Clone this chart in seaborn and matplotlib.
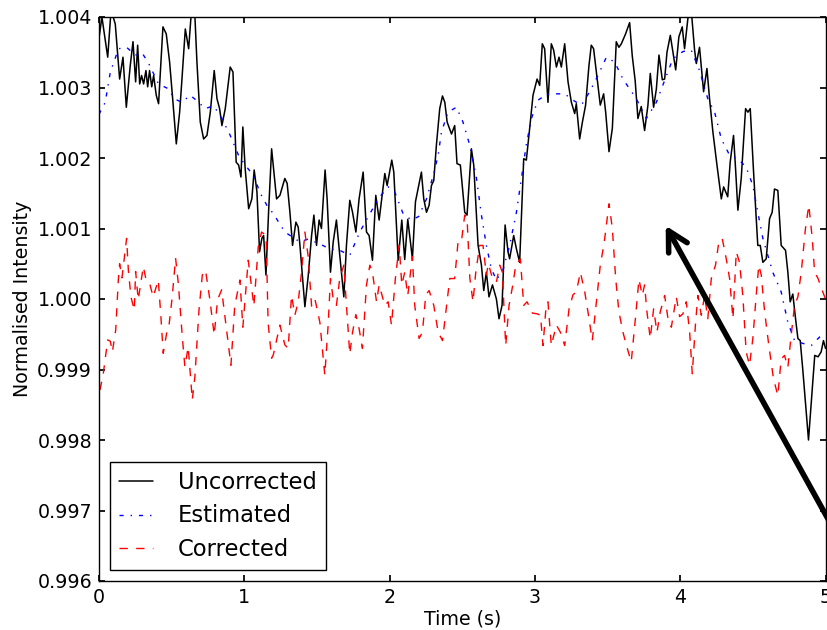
import matplotlib
matplotlib.use("Agg")
import matplotlib.pyplot as plt
import seaborn as sns
from matplotlib.ticker import FormatStrFormatter

# ---- data ----
unc_t = [0.0, 0.02, 0.06, 0.083, 0.112, 0.142, 0.165, 0.188, 0.215, 0.234, 0.252, 0.266, 0.28, 0.293,
         0.307, 0.323, 0.335, 0.348, 0.363, 0.376, 0.394, 0.41, 0.44, 0.463, 0.486, 0.509, 0.532, 0.555,
         0.571, 0.594, 0.617, 0.633, 0.656, 0.674, 0.697, 0.72, 0.743, 0.766, 0.793, 0.812, 0.83, 0.846,
         0.869, 0.903, 0.922, 0.944, 0.961, 0.977, 0.99, 1.006, 1.03, 1.052, 1.068, 1.087, 1.105, 1.121,
         1.133, 1.149, 1.167, 1.188, 1.222, 1.245, 1.279, 1.295, 1.314, 1.332, 1.355, 1.371, 1.383, 1.401,
         1.417, 1.44, 1.463, 1.479, 1.497, 1.515, 1.531, 1.556, 1.57, 1.593, 1.612, 1.634, 1.657, 1.685,
         1.703, 1.726, 1.745, 1.768, 1.79, 1.818, 1.841, 1.859, 1.882, 1.905, 1.928, 1.967, 1.983, 2.015,
         2.029, 2.059, 2.084, 2.104, 2.125, 2.157, 2.178, 2.219, 2.235, 2.254, 2.272, 2.288, 2.304, 2.322,
         2.345, 2.364, 2.38, 2.396, 2.426, 2.448, 2.464, 2.487, 2.517, 2.533, 2.563, 2.579, 2.609, 2.632,
         2.648, 2.666, 2.684, 2.708, 2.735, 2.753, 2.774, 2.795, 2.815, 2.826, 2.854, 2.873, 2.895, 2.923,
         2.941, 2.964, 2.987, 3.015, 3.033, 3.051, 3.067, 3.09, 3.113, 3.129, 3.148, 3.166, 3.182, 3.205,
         3.228, 3.251, 3.274, 3.285, 3.308, 3.327, 3.349, 3.372, 3.388, 3.404, 3.423, 3.45, 3.473, 3.487,
         3.51, 3.533, 3.56, 3.578, 3.595, 3.624, 3.652, 3.67, 3.69, 3.709, 3.732, 3.755, 3.778, 3.794,
         3.817, 3.836, 3.854, 3.877, 3.893, 3.909, 3.932, 3.95, 3.969, 3.991, 4.014, 4.03, 4.053, 4.076,
         4.099, 4.111, 4.133, 4.161, 4.184, 4.202, 4.225, 4.253, 4.283, 4.299, 4.327, 4.344, 4.367, 4.381,
         4.397, 4.42, 4.45, 4.466, 4.482, 4.505, 4.534, 4.551, 4.569, 4.592, 4.615, 4.633, 4.649, 4.672,
         4.695, 4.725, 4.741, 4.757, 4.775, 4.794, 4.81, 4.826, 4.844, 4.867, 4.883, 4.909, 4.926, 4.949,
         4.97, 4.986, 5.0]
unc_v = [1.0037, 1.0040, 1.00343, 1.0041, 1.0039, 1.00312, 1.00343, 1.00272, 1.00331, 1.00365, 1.00308,
         1.0036, 1.00305, 1.00317, 1.00305, 1.00324, 1.00301, 1.00324, 1.00301, 1.00317, 1.00289, 1.00277,
         1.00386, 1.00376, 1.00336, 1.00279, 1.0022, 1.00265, 1.00312, 1.00383, 1.00355, 1.0040, 1.0042,
         1.00336, 1.00251, 1.00227, 1.00232, 1.00265, 1.00324, 1.00284, 1.0027, 1.00246, 1.0027, 1.00329,
         1.00322, 1.00194, 1.0019, 1.00173, 1.00244, 1.00185, 1.00128, 1.00142, 1.00183, 1.00152, 1.00067,
         1.00086, 1.0009, 1.00034, 1.00123, 1.00213, 1.00142, 1.00147, 1.00171, 1.00164, 1.00123, 1.00076,
         1.00109, 1.00102, 1.00076, 1.00029, 0.99989, 1.00033, 1.0009, 1.00119, 1.00076, 1.00112, 1.001,
         1.00183, 1.00142, 1.00038, 1.00081, 1.00112, 1.00062, 1.00003, 1.00076, 1.0014, 1.00123, 1.00095,
         1.00142, 1.0018, 1.00095, 1.0009, 1.00055, 1.00147, 1.00112, 1.00178, 1.00161, 1.00197, 1.0018,
         1.00055, 1.00112, 1.00056, 1.00113, 1.00057, 1.00138, 1.0018, 1.00142, 1.00123, 1.00133, 1.00161,
         1.00168, 1.00218, 1.0027, 1.00288, 1.00279, 1.00251, 1.00234, 1.00246, 1.00192, 1.0019, 1.00123,
         1.00119, 1.00213, 1.0019, 1.00076, 1.00048, 1.00012, 1.00038, 1.00003, 1.0002, 1.0, 0.99972,
         0.99991, 1.00105, 1.00067, 1.00057, 1.0009, 1.00071, 1.00052, 1.00199, 1.00197, 1.00242, 1.00289,
         1.00312, 1.00303, 1.00362, 1.00355, 1.00279, 1.00362, 1.00353, 1.00329, 1.00343, 1.00329, 1.00362,
         1.00308, 1.00279, 1.00263, 1.00277, 1.00227, 1.00251, 1.00275, 1.00331, 1.0036, 1.00355, 1.00322,
         1.00275, 1.00291, 1.00265, 1.00209, 1.00242, 1.00365, 1.00357, 1.00362, 1.00376, 1.00392, 1.00345,
         1.0031, 1.00256, 1.00273, 1.00239, 1.00275, 1.0032, 1.00272, 1.00298, 1.00346, 1.00311, 1.00312,
         1.0035, 1.00374, 1.0035, 1.00325, 1.00372, 1.00386, 1.00355, 1.00398, 1.0041, 1.00353, 1.00334,
         1.00357, 1.00294, 1.00327, 1.00284, 1.00237, 1.0019, 1.00142, 1.00159, 1.00145, 1.00194, 1.00232,
         1.00185, 1.00126, 1.00171, 1.0027, 1.00265, 1.0027, 1.0018, 1.00076, 1.00076, 1.00052, 1.00057,
         1.00114, 1.00123, 1.00156, 1.00154, 1.00076, 1.00069, 1.00038, 0.99996, 1.00007, 0.99972, 0.99944,
         0.99941, 0.99899, 0.9984, 0.9980, 0.99873, 0.9992, 0.99918, 0.99925, 0.99941, 0.9993]

est_t = [0.0, 0.043, 0.078, 0.135, 0.19, 0.25, 0.3, 0.342, 0.41, 0.479, 0.518, 0.571, 0.628, 0.686,
         0.73, 0.789, 0.846, 0.903, 0.96, 1.006, 1.064, 1.11, 1.155, 1.2, 1.279, 1.382, 1.44, 1.52, 1.589,
         1.657, 1.726, 1.795, 1.864, 1.933, 1.99, 2.033, 2.093, 2.15, 2.2, 2.254, 2.3, 2.334, 2.357, 2.402,
         2.46, 2.505, 2.552, 2.598, 2.632, 2.666, 2.7, 2.735, 2.78, 2.826, 2.873, 2.907, 2.94, 2.976, 3.021,
         3.08, 3.148, 3.205, 3.262, 3.32, 3.377, 3.434, 3.492, 3.549, 3.606, 3.652, 3.698, 3.767, 3.836,
         3.893, 3.95, 4.019, 4.076, 4.133, 4.19, 4.237, 4.283, 4.34, 4.397, 4.454, 4.5, 4.534, 4.569, 4.637,
         4.695, 4.741, 4.787, 4.844, 4.902, 4.959, 5.0]
est_v = [1.00262, 1.00279, 1.00322, 1.00355, 1.00357, 1.00346, 1.00348, 1.00334, 1.00305, 1.00298,
         1.00284, 1.00279, 1.00289, 1.00279, 1.0027, 1.00274, 1.00256, 1.00232, 1.00204, 1.0019, 1.00175,
         1.0015, 1.00133, 1.00121, 1.00095, 1.00081, 1.00085, 1.00078, 1.00071, 1.00069, 1.00062, 1.00095,
         1.00121, 1.00145, 1.00159, 1.00153, 1.00121, 1.00112, 1.00117, 1.00142, 1.00175, 1.00204, 1.00237,
         1.00265, 1.00272, 1.00251, 1.00218, 1.00171, 1.00119, 1.00076, 1.00043, 1.00027, 1.00041, 1.00076,
         1.00123, 1.00171, 1.00218, 1.00256, 1.00282, 1.0029, 1.00291, 1.00291, 1.00282, 1.00275, 1.00294,
         1.00317, 1.00343, 1.00336, 1.00312, 1.00298, 1.00284, 1.00256, 1.00279, 1.0031, 1.00341, 1.00351,
         1.00353, 1.00324, 1.00284, 1.00265, 1.00227, 1.00204, 1.00199, 1.00187, 1.00161, 1.00123, 1.00086,
         1.00038, 1.0001, 0.99967, 0.99941, 0.99937, 0.99934, 0.99946, 0.9995]

cor_t = [0.007, 0.03, 0.06, 0.078, 0.092, 0.115, 0.133, 0.142, 0.158, 0.19, 0.202, 0.22, 0.243, 0.252,
         0.27, 0.305, 0.326, 0.351, 0.373, 0.408, 0.426, 0.442, 0.465, 0.481, 0.504, 0.527, 0.546, 0.573,
         0.591, 0.614, 0.642, 0.66, 0.688, 0.711, 0.733, 0.763, 0.793, 0.816, 0.844, 0.878, 0.908, 0.934,
         0.97, 0.99, 1.027, 1.066, 1.096, 1.119, 1.15, 1.164, 1.188, 1.2, 1.245, 1.279, 1.302, 1.325, 1.348,
         1.371, 1.394, 1.417, 1.44, 1.463, 1.486, 1.52, 1.554, 1.577, 1.593, 1.612, 1.634, 1.657, 1.685,
         1.703, 1.726, 1.745, 1.768, 1.79, 1.813, 1.841, 1.864, 1.882, 1.91, 1.928, 1.967, 1.99, 2.013,
         2.04, 2.066, 2.084, 2.104, 2.125, 2.157, 2.173, 2.203, 2.226, 2.249, 2.272, 2.304, 2.334, 2.364,
         2.387, 2.414, 2.448, 2.471, 2.494, 2.517, 2.533, 2.552, 2.574, 2.593, 2.62, 2.643, 2.666, 2.68,
         2.708, 2.735, 2.758, 2.776, 2.799, 2.822, 2.848, 2.868, 2.9, 2.923, 2.946, 2.983, 3.015, 3.038,
         3.056, 3.074, 3.09, 3.113, 3.148, 3.175, 3.205, 3.235, 3.262, 3.285, 3.313, 3.343, 3.365, 3.395,
         3.423, 3.45, 3.477, 3.51, 3.533, 3.556, 3.578, 3.606, 3.63, 3.663, 3.693, 3.716, 3.739, 3.755,
         3.771, 3.794, 3.817, 3.84, 3.863, 3.893, 3.916, 3.939, 3.973, 3.996, 4.019, 4.042, 4.065, 4.083,
         4.106, 4.122, 4.145, 4.168, 4.19, 4.214, 4.243, 4.266, 4.289, 4.317, 4.34, 4.363, 4.386, 4.408,
         4.431, 4.454, 4.477, 4.5, 4.523, 4.541, 4.558, 4.581, 4.61, 4.642, 4.672, 4.695, 4.718, 4.741,
         4.764, 4.787, 4.81, 4.833, 4.862, 4.885, 4.909, 4.925, 4.949, 4.972, 5.0]
cor_v = [0.99871, 0.99895, 0.99942, 0.9994, 0.99925, 0.99956, 1.00027, 1.0005, 1.0003, 1.00086, 1.00041,
         1.00003, 0.99984, 1.00039, 0.99999, 1.00046, 1.00025, 1.0002, 1.00003, 1.00027, 0.99975, 0.99923,
         0.99951, 0.99961, 1.00003, 1.00058, 1.00022, 0.99947, 0.99904, 0.99932, 0.99857, 0.9989, 0.99984,
         1.00034, 1.00041, 0.99999, 0.99949, 0.99999, 1.00013, 0.99956, 0.99906, 0.9999, 1.00027, 0.9996,
         1.00055, 0.9999, 1.00074, 1.00095, 1.0009, 0.99966, 0.99916, 0.99921, 0.99963, 0.99935, 0.9993,
         1.00005, 0.99977, 0.99996, 1.00038, 1.00095, 1.0006, 0.9999, 1.0, 0.99967, 0.99892, 0.99963,
         1.00029, 1.0, 0.99991, 1.00029, 1.00048, 0.99991, 0.99922, 0.99953, 0.99978, 0.99958, 0.9993,
         1.0002, 1.00048, 1.00038, 0.99996, 1.0002, 0.99991, 0.99996, 0.99963, 1.0003, 1.00076, 1.0002,
         1.00038, 1.00005, 1.0006, 0.99991, 0.99944, 0.99953, 1.00006, 1.00012, 0.99991, 0.99953, 0.99941,
         0.99982, 1.00029, 1.00029, 1.00081, 1.00081, 1.00119, 1.00115, 1.0003, 0.99996, 1.00038, 1.00076,
         1.00076, 1.00034, 1.0005, 1.00029, 1.00024, 1.00048, 1.00038, 0.99934, 0.99991, 1.0002, 1.00048,
         1.00057, 0.99991, 0.99996, 0.9998, 0.99979, 0.99977, 0.99934, 0.99982, 0.99996, 0.99934, 0.99963,
         0.99953, 0.99934, 0.99986, 1.00006, 1.0001, 1.00038, 1.0001, 0.99982, 0.99941, 0.99996, 1.00048,
         1.0008, 1.00135, 1.001, 1.00029, 0.99982, 0.99953, 0.99934, 0.99911, 0.99975, 1.00028, 1.00005,
         1.0002, 0.99982, 0.99944, 0.99986, 0.99953, 0.99982, 1.00005, 0.99972, 0.9996, 1.00003, 0.99975,
         0.99979, 0.99996, 0.99953, 0.99894, 0.99967, 1.00005, 0.99977, 1.00005, 0.99972, 1.00029, 1.00048,
         1.00081, 1.00086, 1.00057, 1.00029, 0.99972, 1.00067, 1.00052, 1.00005, 0.99925, 0.99906, 0.99944,
         1.00005, 1.00048, 1.00034, 0.99982, 0.99934, 0.99887, 0.99863, 0.99915, 0.9992, 0.99903, 0.99949,
         0.99991, 1.00003, 1.00038, 1.001, 1.00133, 1.00086, 1.00038, 1.00029, 1.00015, 1.0]

sns.set_theme(style="ticks", rc={
    "xtick.direction": "in", "ytick.direction": "in",
    "xtick.top": True, "ytick.right": True,
    "xtick.major.size": 4.5, "ytick.major.size": 4.5,
    "xtick.major.pad": 5, "ytick.major.pad": 5,
    "axes.linewidth": 1.0, "axes.edgecolor": "black",
    "xtick.color": "black", "ytick.color": "black",
    "xtick.labelcolor": "black", "ytick.labelcolor": "black",
    "axes.labelcolor": "black", "text.color": "black",
    "lines.dashed_pattern": [6, 6], "lines.dashdot_pattern": [3, 5, 1, 5],
    "legend.fancybox": False, "legend.edgecolor": "black", "legend.framealpha": 1,
})
plt.rcParams["font.family"] = ["DejaVu Sans"]

fig = plt.figure(figsize=(8.27, 6.30), dpi=100)
ax = fig.add_axes([99 / 827, 49 / 630, 726.5 / 827, 564 / 630])

sns.lineplot(x=unc_t, y=unc_v, ax=ax, color="black", lw=1.1, label="Uncorrected", errorbar=None)
sns.lineplot(x=est_t, y=est_v, ax=ax, color="blue", lw=1.0, linestyle="-.", label="Estimated", errorbar=None)
sns.lineplot(x=cor_t, y=cor_v, ax=ax, color="red", lw=1.0, linestyle="--", label="Corrected", errorbar=None)

ax.set_xlim(0, 5)
ax.set_ylim(0.996, 1.004)
ax.yaxis.set_major_formatter(FormatStrFormatter("%.3f"))
ax.tick_params(labelsize=13.7)
ax.set_xlabel("Time (s)", fontsize=13.7, labelpad=2)
ax.set_ylabel("Normalised Intensity", fontsize=13.7, labelpad=4)

ax.annotate("", xy=(3.9, 1.00104), xytext=(5.2, 0.9962),
            arrowprops=dict(arrowstyle="->,head_length=0.7,head_width=0.38", lw=4,
                            color="black", mutation_scale=20, shrinkA=0, shrinkB=0),
            annotation_clip=False)

leg = ax.legend(loc="lower left", fontsize=16.3, handlelength=1.5, handletextpad=1.1,
                labelspacing=0.45, borderaxespad=0.5)
for txt in leg.get_texts():
    txt.set_color("black")

fig.savefig("out.png", dpi=100)
